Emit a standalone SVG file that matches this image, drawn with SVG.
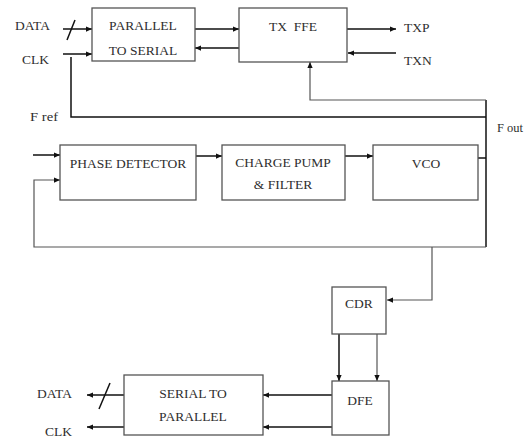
<svg xmlns="http://www.w3.org/2000/svg" width="524" height="438" viewBox="0 0 524 438">
<style>
.box{fill:#fff;stroke:#555;stroke-width:1.3}
.t{font-family:'Liberation Serif','Times New Roman','DejaVu Serif',serif;font-size:13.5px;fill:#2e2e2e}
.m{text-anchor:middle}
.w{fill:none;stroke:#111;stroke-width:1.5}
.g{fill:none;stroke:#555;stroke-width:1.2}
</style>
<defs>
<marker id="a" viewBox="0 0 8 8" refX="8" refY="4" markerWidth="6" markerHeight="6" orient="auto" markerUnits="userSpaceOnUse">
<path d="M0,0.5 L8,4 L0,7.5 Z" fill="#111"/>
</marker>
</defs>
<rect width="524" height="438" fill="#fff"/>
<g id="connectors">
<path class="w" d="M63,29 H92" marker-end="url(#a)"/>
<path class="w" d="M67,40 L75,20"/>
<path class="w" d="M63,54 H92" marker-end="url(#a)"/>
<path class="w" d="M71,57 V117 H486"/>
<path class="w" d="M195,29 H239" marker-end="url(#a)"/>
<path class="w" d="M239,48 H195" marker-end="url(#a)"/>
<path class="w" d="M347,29 H396" marker-end="url(#a)"/>
<path class="w" d="M396,53 H348" marker-end="url(#a)"/>
<path class="w" d="M486,100 V247"/>
<path class="g" d="M486,100 H310 V62" marker-end="url(#a)"/>
<path class="w" d="M33,155 H60" marker-end="url(#a)"/>
<path class="w" d="M196,156 H222" marker-end="url(#a)"/>
<path class="w" d="M345,156 H373" marker-end="url(#a)"/>
<path class="w" d="M478,158 H486"/>
<path class="g" d="M486,247 H34 V180 H60" marker-end="url(#a)"/>
<path class="g" d="M432,247 V300 H387" marker-end="url(#a)"/>
<path class="w" d="M339,334 V381" marker-end="url(#a)"/>
<path class="g" d="M377,334 V381" marker-end="url(#a)"/>
<path class="w" d="M332,395 H263" marker-end="url(#a)"/>
<path class="w" d="M332,427 H263" marker-end="url(#a)"/>
<path class="w" d="M124,395 H87" marker-end="url(#a)"/>
<path class="w" d="M99,409 L110,383"/>
<path class="w" d="M124,427 H87" marker-end="url(#a)"/>
</g>
<g id="p2s"><rect class="box" x="92" y="8" width="103" height="53"/><text class="t m" x="143" y="30">PARALLEL</text><text class="t m" x="143" y="55">TO SERIAL</text></g>
<g id="txffe"><rect class="box" x="239" y="8" width="108" height="54"/><text class="t m" x="293" y="31" xml:space="preserve">TX  FFE</text></g>
<g id="pd"><rect class="box" x="60" y="145" width="136" height="55"/><text class="t m" x="128" y="168">PHASE DETECTOR</text></g>
<g id="cp"><rect class="box" x="222" y="145" width="123" height="55"/><text class="t m" x="283" y="167">CHARGE PUMP</text><text class="t m" x="283" y="189">&amp; FILTER</text></g>
<g id="vco"><rect class="box" x="373" y="145" width="105" height="55"/><text class="t m" x="426" y="168">VCO</text></g>
<g id="cdr"><rect class="box" x="332" y="287" width="54" height="47"/><text class="t m" x="359" y="308">CDR</text></g>
<g id="dfe"><rect class="box" x="332" y="381" width="57" height="54"/><text class="t m" x="360" y="405">DFE</text></g>
<g id="s2p"><rect class="box" x="124" y="375" width="139" height="60"/><text class="t m" x="193" y="398">SERIAL TO</text><text class="t m" x="193" y="421">PARALLEL</text></g>
<g id="labels">
<text class="t" x="15" y="30">DATA</text>
<text class="t" x="22" y="64">CLK</text>
<text class="t" x="30" y="121" textLength="28" lengthAdjust="spacingAndGlyphs">F ref</text>
<text class="t" x="497" y="132" textLength="26" lengthAdjust="spacingAndGlyphs">F out</text>
<text class="t" x="404" y="32">TXP</text>
<text class="t" x="404" y="65">TXN</text>
<text class="t" x="37" y="398">DATA</text>
<text class="t" x="45" y="436">CLK</text>
</g>
</svg>
